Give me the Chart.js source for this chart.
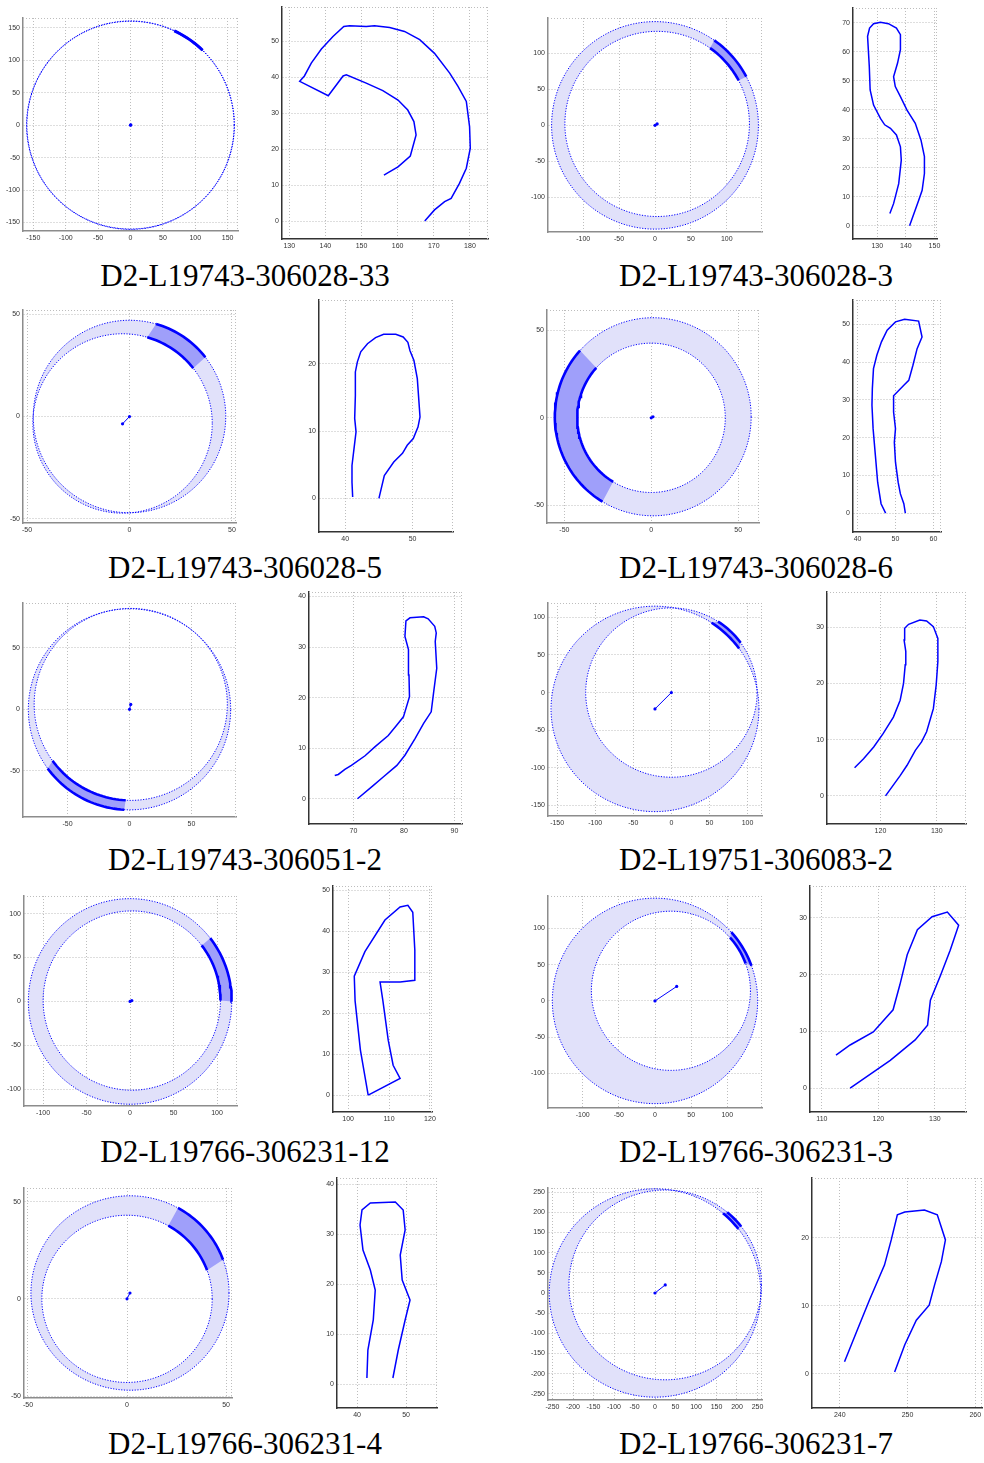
<!DOCTYPE html>
<html>
<head>
<meta charset="utf-8">
<script src="https://cdn.jsdelivr.net/npm/chart.js@4"></script>
<style>
  body { margin: 0; background: #fff; }
  #page { position: relative; width: 984px; height: 1463px; overflow: hidden; background: #fff; }
  .plot { position: absolute; }
  .caption { position: absolute; width: 492px; text-align: center; font-family: 'Liberation Serif', 'Times New Roman', serif; font-size: 31px; line-height: 30px; color: #000; white-space: nowrap; }
</style>
</head>
<body>
<div id="page"></div>
<script>
// Sample names, one per pair of plots
const panelNames = ['D2-L19743-306028-33', 'D2-L19743-306028-3', 'D2-L19743-306028-5', 'D2-L19743-306028-6',
  'D2-L19743-306051-2', 'D2-L19751-306083-2', 'D2-L19766-306231-12', 'D2-L19766-306231-3',
  'D2-L19766-306231-4', 'D2-L19766-306231-7'];

// Ring plots: outer / inner circle, highlighted sector (degrees), offset of the centre
const outerCx = [0, 0, 0, 1, 0, -21.5, 0, 0, 1.5, 0];
const outerCy = [0, 0, 0, 0.6, 0, -21.7, 0, 0, 3, 0];
const outerR = [160.5, 144, 47, 56.5, 81.7, 136.5, 117, 142, 50, 258];
const innerCx = [0, 3, -3.4, 0, 1, 0, 2, 22, 0, 25];
const innerCy = [0, 2, -3.4, 0, 4, 0, 1, 14, 0, 20];
const innerR = [160, 128.5, 43.8, 42.6, 78, 112.5, 102, 110, 43, 235];
const arcFrom = [46, 28, 38, 138, 216, 36, 0, 20, 20, 38];
const arcTo = [65, 55, 74, 239, 267, 57, 38, 42, 61, 50];
const centerX = [0.5, 3, -3.4, 1, 1, -21.5, 2, 30, 1.5, 25];
const centerY = [0.5, 2, -3.6, 0.6, 4, -21.7, 1, 20, 3, 20];

// Ring plot axis limits and ticks
const ringXMin = [-166, -149, -52, -60, -86, -162, -122, -148, -52, -261];
const ringXMax = [166, 149, 52, 62, 86, 119, 123, 148, 53, 261];
const ringYMin = [-163, -148, -52, -60, -87.5, -164, -119, -148, -51, -265];
const ringYMax = [165, 149, 52, 61.5, 86.4, 119, 120, 145, 57, 260];
const ringXTicks = [
  [-150, -100, -50, 0, 50, 100, 150], [-100, -50, 0, 50, 100], [-50, 0, 50], [-50, 0, 50], [-50, 0, 50],
  [-150, -100, -50, 0, 50, 100], [-100, -50, 0, 50, 100], [-100, -50, 0, 50, 100], [-50, 0, 50],
  [-250, -200, -150, -100, -50, 0, 50, 100, 150, 200, 250]];
const ringYTicks = [
  [-150, -100, -50, 0, 50, 100, 150], [-100, -50, 0, 50, 100], [-50, 0, 50], [-50, 0, 50], [-50, 0, 50],
  [-150, -100, -50, 0, 50, 100], [-100, -50, 0, 50, 100], [-100, -50, 0, 50, 100], [-50, 0, 50],
  [-250, -200, -150, -100, -50, 0, 50, 100, 150, 200, 250]];

// Contour outlines (x, y)
const contourX = [
  [156.2, 157.6, 160.1, 163.5, 165.1, 164.5, 162.8, 160.1, 155.9, 151.3, 145.8, 144.9, 140.8, 132.9, 134.2, 136.1, 138.9, 142.1, 145.1, 146.7, 151.3, 153.6, 157.8, 161.9, 166.1, 170.2, 174.4, 176.7, 179.0, 179.9, 180.1, 179.0, 177.1, 174.8, 173.0, 170.2, 167.5],
  [134.4, 135.7, 137.5, 138.4, 138.1, 136.7, 134.6, 132.6, 131.1, 128.7, 127.5, 127.2, 126.6, 127.3, 128.7, 131.1, 133.9, 136.7, 138.1, 138.1, 137.1, 135.7, 136.3, 138.1, 140.4, 143.3, 145.3, 146.5, 146.5, 145.7, 144.5, 141.3],
  [41.1, 41.0, 41.0, 41.3, 41.6, 41.4, 41.5, 41.5, 41.8, 42.3, 43.3, 44.5, 45.7, 47.5, 48.6, 49.3, 49.6, 50.2, 50.7, 51.1, 50.8, 50.1, 49.2, 48.5, 47.2, 45.8, 45.0],
  [47.4, 46.2, 45.3, 44.7, 44.1, 43.8, 43.9, 44.2, 45.1, 46.3, 47.8, 50.0, 52.4, 56.1, 57.0, 55.7, 54.6, 53.5, 52.2, 49.5, 49.5, 50.0, 49.7, 50.0, 50.7, 51.3, 52.2, 52.6],
  [66.3, 67.0, 68.3, 69.6, 72.3, 74.3, 76.9, 78.6, 79.9, 81.1, 81.0, 80.9, 80.2, 80.4, 81.2, 83.9, 84.8, 86.1, 86.4, 86.2, 86.5, 85.9, 85.4, 83.9, 82.2, 80.2, 78.6, 75.9, 73.9, 70.8],
  [115.4, 117.0, 118.8, 120.5, 122.3, 123.5, 124.1, 124.4, 124.5, 124.2, 124.3, 125.0, 127.0, 128.2, 129.4, 130.2, 130.2, 129.9, 129.4, 128.2, 127.3, 126.2, 124.7, 123.5, 120.9],
  [104.9, 103, 101.7, 101.5, 104.1, 109, 112.7, 114.6, 115.8, 116.3, 116.3, 112.7, 107.8, 108.5, 109.8, 111, 112.7, 104.9],
  [112.5, 115, 119.1, 122.6, 123.8, 125.1, 126.9, 129.5, 132.2, 134.2, 132.7, 131, 129.2, 128.7, 126.5, 122.1, 115],
  [42, 42.2, 43.3, 43.7, 42.7, 41.2, 40.6, 41, 42.7, 47.8, 49.4, 49.8, 48.8, 49.2, 50.8, 49.8, 48.4, 47.3],
  [240.7, 242.6, 244.4, 246.6, 247.6, 248.5, 249.6, 252.5, 254.4, 255.6, 255, 254, 253.2, 251.3, 249.6, 248.1]];
const contourY = [
  [12.8, 13.6, 15.1, 18.1, 24.0, 27.7, 30.9, 33.7, 36.3, 38.4, 40.7, 40.4, 34.9, 38.9, 40.4, 44.0, 47.9, 51.4, 54.2, 54.4, 54.2, 54.4, 53.9, 52.8, 50.5, 46.7, 41.2, 37.5, 33.3, 26.3, 20.3, 14.7, 10.5, 6.3, 5.4, 3.1, 0],
  [4.2, 7.6, 14.5, 22.6, 27.2, 31.3, 33.6, 34.8, 37.0, 41.6, 46.8, 54.9, 65.3, 68.2, 69.7, 70.2, 69.7, 68.2, 65.9, 60.7, 56.1, 51.4, 48.0, 44.5, 39.9, 35.3, 29.5, 23.8, 18.0, 12.2, 8.8, 0],
  [0.2, 2.4, 4.9, 7.4, 9.9, 11.9, 15.3, 18.8, 20.3, 21.8, 23.0, 23.9, 24.4, 24.4, 24.0, 23.2, 22.0, 20.5, 17.8, 12.1, 10.6, 8.9, 7.9, 6.7, 5.4, 3.4, 0],
  [0, 2.5, 8.2, 15.3, 22.4, 28.6, 33.0, 38.3, 41.9, 45.4, 48.5, 50.7, 51.4, 50.9, 46.7, 43.6, 39.2, 35.2, 33.9, 31.1, 26.8, 22.4, 18.8, 13.5, 8.2, 5.1, 2.5, 0],
  [4.6, 4.8, 5.8, 6.6, 8.5, 10.3, 12.5, 14.6, 16.2, 20.2, 24.5, 29.5, 32.1, 35.2, 35.8, 36.0, 35.6, 34.1, 32.8, 31.1, 25.8, 21.2, 17.2, 14.9, 11.9, 8.6, 6.6, 4.3, 2.6, 0],
  [5.0, 6.6, 8.7, 11.1, 14.0, 17.0, 20.0, 23.3, 25.7, 27.7, 29.8, 30.5, 31.25, 31.1, 30.1, 28.0, 23.9, 19.7, 15.5, 11.4, 9.6, 8.1, 5.4, 3.6, 0],
  [0, 11, 23, 29, 35, 42.7, 45.9, 46.3, 44.6, 35.4, 28, 27.6, 27.6, 23, 13.4, 7.3, 4.1, 0],
  [5.8, 7.6, 9.9, 13.8, 18.2, 23.5, 27.9, 30.2, 31, 28.7, 24.3, 19.9, 15.5, 11.1, 8.5, 4.9, 0],
  [1.2, 6.8, 12.8, 18.8, 22.8, 26.8, 31.8, 34.8, 36.2, 36.4, 34.8, 30.8, 25.8, 20.8, 16.8, 12.8, 6.8, 1.2],
  [1.8, 6.5, 10.9, 16, 19.7, 23.4, 23.8, 24.1, 23.4, 19.7, 16.5, 13.1, 10.1, 7.9, 4.3, 0.3]];

// Contour axis limits and ticks
const contXMin = [128, 121.5, 36.1, 38.8, 61.2, 110.5, 96.3, 107.9, 35.9, 235.9];
const contXMax = [185, 150.9, 56, 62, 91.5, 135.2, 120.5, 135.5, 56.3, 261];
const contYMin = [-5, -4.6, -5, -5, -5, -5, -4.1, -4.2, -4.8, -5];
const contYMax = [59.6, 75.1, 29.5, 56.5, 40.9, 36.25, 51, 35.6, 41.2, 28.8];
const contXTicks = [[130, 140, 150, 160, 170, 180], [130, 140, 150], [40, 50], [40, 50, 60], [70, 80, 90],
  [120, 130], [100, 110, 120], [110, 120, 130], [40, 50], [240, 250, 260]];
const contYTicks = [[0, 10, 20, 30, 40, 50], [0, 10, 20, 30, 40, 50, 60, 70], [0, 10, 20], [0, 10, 20, 30, 40, 50],
  [0, 10, 20, 30, 40], [0, 10, 20, 30], [0, 10, 20, 30, 40, 50], [0, 10, 20, 30], [0, 10, 20, 30, 40], [0, 10, 20]];

// Plot boxes on the page: [left, top, right, bottom]
const ringBoxes = [[23, 18, 238, 231], [548, 18, 762, 232], [23, 310, 236, 523], [547, 310, 759, 523],
  [23, 603, 236, 817], [548, 603, 762, 816], [24, 896, 237, 1106], [548, 896, 762, 1108],
  [24, 1188, 232, 1398], [548, 1188, 762, 1400]];
const contBoxes = [[282, 7, 488, 239], [853, 8, 937, 239], [319, 300, 453, 532], [853, 300, 941, 532],
  [309, 592, 462, 824], [827, 592, 966, 824], [333, 886, 432, 1112], [810, 886, 966, 1112],
  [337, 1178, 437, 1408], [812, 1178, 982, 1408]];
const captionY = [261, 553, 845, 1137, 1429];
const captionCenter = [245, 756];

const BLUE = '#0000ff';
const page = document.getElementById('page');

// dotted top and right edges of the axes box
const frameEdges = {
  id: 'frameEdges',
  beforeDatasetsDraw(chart) {
    const {ctx, chartArea: a} = chart;
    ctx.save();
    ctx.strokeStyle = '#bdbdbd';
    ctx.lineWidth = 1;
    ctx.setLineDash([1, 2]);
    ctx.beginPath();
    ctx.moveTo(a.left, Math.round(a.top) + 0.5);
    ctx.lineTo(a.right, Math.round(a.top) + 0.5);
    ctx.moveTo(Math.round(a.right) - 0.5, a.top);
    ctx.lineTo(Math.round(a.right) - 0.5, a.bottom);
    ctx.stroke();
    ctx.restore();
  }
};

function arcPoints(cx, cy, r, from, to) {
  const pts = [];
  const n = Math.max(2, Math.ceil(Math.abs(to - from) / 2));
  for (let i = 0; i <= n; i++) {
    const a = (from + (to - from) * i / n) * Math.PI / 180;
    pts.push({x: cx + r * Math.cos(a), y: cy + r * Math.sin(a)});
  }
  return pts;
}

function axis(min, max, ticks, fit, axisColor) {
  return {
    type: 'linear',
    min, max,
    afterBuildTicks: s => { s.ticks = ticks.map(v => ({value: v})); },
    afterFit: fit,
    ticks: {
      font: {family: 'Liberation Sans', size: 7},
      color: '#333',
      padding: 3,
      maxRotation: 0,
      autoSkip: false,
      callback: v => String(v)
    },
    grid: {color: '#bdbdbd', lineWidth: 1, drawTicks: false},
    border: {color: axisColor, width: 1.5, dash: [1, 2]}
  };
}

function makeChart(box, xr, yr, xt, yt, datasets, axisColor) {
  const padL = 34, padB = 16, padT = 8, padR = 14;
  const w = box[2] - box[0] + padL + padR;
  const h = box[3] - box[1] + padT + padB;
  const wrap = document.createElement('div');
  wrap.className = 'plot';
  wrap.style.left = (box[0] - padL) + 'px';
  wrap.style.top = (box[1] - padT) + 'px';
  const canvas = document.createElement('canvas');
  canvas.width = w;
  canvas.height = h;
  wrap.appendChild(canvas);
  page.appendChild(wrap);

  new Chart(canvas, {
    type: 'scatter',
    data: {datasets},
    options: {
      responsive: false,
      animation: false,
      layout: {padding: {top: padT, right: padR, left: 0, bottom: 0}},
      plugins: {legend: {display: false}, tooltip: {enabled: false}},
      events: [],
      scales: {
        x: axis(xr[0], xr[1], xt, s => { s.height = padB; }, axisColor),
        y: axis(yr[0], yr[1], yt, s => { s.width = padL; }, axisColor)
      }
    },
    plugins: [frameEdges]
  });
}

function ringDatasets(i) {
  const outer = arcPoints(outerCx[i], outerCy[i], outerR[i], 0, 360);
  const inner = arcPoints(innerCx[i], innerCy[i], innerR[i], 360, 0);
  const hiOuter = arcPoints(outerCx[i], outerCy[i], outerR[i], arcFrom[i], arcTo[i]);
  const hiInner = arcPoints(innerCx[i], innerCy[i], innerR[i], arcTo[i], arcFrom[i]);
  const line = {showLine: true, pointRadius: 0, tension: 0};
  return [
    // band between the two circles
    {...line, data: outer.concat(inner), fill: 'shape', backgroundColor: '#e1e1fa', borderWidth: 0, order: 6},
    // highlighted sector
    {...line, data: hiOuter.concat(hiInner), fill: 'shape', backgroundColor: '#9f9ffa', borderWidth: 0, order: 5},
    {...line, data: outer, borderColor: BLUE, borderWidth: 1, borderDash: [1.2, 1.5], order: 4},
    {...line, data: inner, borderColor: BLUE, borderWidth: 1, borderDash: [1.2, 1.5], order: 3},
    {...line, data: hiOuter, borderColor: BLUE, borderWidth: 2.6, order: 2},
    {...line, data: hiInner, borderColor: BLUE, borderWidth: 2.6, order: 2},
    // offset between the circle centres
    {showLine: true, tension: 0, data: [{x: 0, y: 0}, {x: centerX[i], y: centerY[i]}],
      borderColor: BLUE, borderWidth: 1, pointRadius: 1.6, pointBackgroundColor: BLUE,
      pointBorderWidth: 0, order: 1}
  ];
}

function contourDatasets(i) {
  const pts = contourX[i].map((x, k) => ({x, y: contourY[i][k]}));
  return [{showLine: true, tension: 0, pointRadius: 0, data: pts, borderColor: BLUE, borderWidth: 1.5}];
}

panelNames.forEach((name, i) => {
  makeChart(ringBoxes[i], [ringXMin[i], ringXMax[i]], [ringYMin[i], ringYMax[i]],
    ringXTicks[i], ringYTicks[i], ringDatasets(i), '#8c8c8c');
  makeChart(contBoxes[i], [contXMin[i], contXMax[i]], [contYMin[i], contYMax[i]],
    contXTicks[i], contYTicks[i], contourDatasets(i), '#333');

  const cap = document.createElement('div');
  cap.className = 'caption';
  cap.textContent = name;
  cap.style.left = (captionCenter[i % 2] - 246) + 'px';
  cap.style.top = captionY[Math.floor(i / 2)] + 'px';
  page.appendChild(cap);
});
</script>
</body>
</html>
